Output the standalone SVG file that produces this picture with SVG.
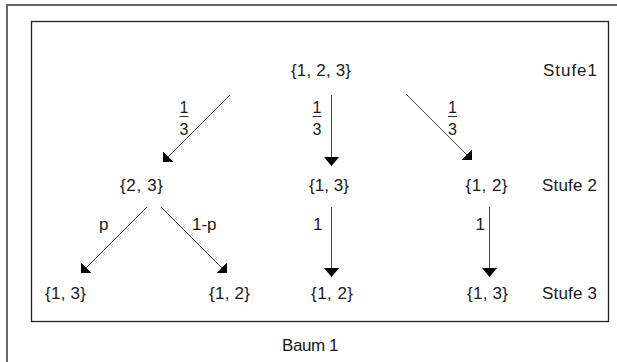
<svg xmlns="http://www.w3.org/2000/svg" width="617" height="362" viewBox="0 0 617 362">
  <style>
    text { font-family: "Liberation Sans", Arial, sans-serif; font-size: 17px; fill: #1a1a1a; }
    .edge { stroke: #444; stroke-width: 1; fill: none; }
    .vert { marker-end: url(#headV); }
    .diag { marker-end: url(#headD); }
    .frac { text-anchor: middle; font-size: 16px; }
  </style>
  <defs>
    <!-- filled head for vertical arrows -->
    <marker id="headV" markerUnits="userSpaceOnUse" viewBox="0 0 10 16" markerWidth="10" markerHeight="16" refX="9.5" refY="8" orient="auto">
      <path d="M0,0 L9.5,8 L0,16 z" fill="#000"/>
    </marker>
    <!-- right-angled head for slanted arrows -->
    <marker id="headD" markerUnits="userSpaceOnUse" viewBox="0 0 8 15" markerWidth="8" markerHeight="15" refX="7.5" refY="7.5" orient="auto">
      <path d="M0,0 L7.5,7.5 L0,15 z" fill="#000"/>
    </marker>
  </defs>

  <rect width="617" height="362" fill="#fff"/>

  <!-- outer frame -->
  <path d="M7,362 V5 H617" stroke="#666" stroke-width="2" fill="none"/>
  <!-- inner frame -->
  <rect x="31.5" y="21.5" width="577" height="300" stroke="#222" stroke-width="1.3" fill="none"/>

  <!-- level labels -->
  <g id="levels">
    <text x="543" y="75.5" textLength="54" lengthAdjust="spacing">Stufe1</text>
    <text x="542" y="191" textLength="55" lengthAdjust="spacing">Stufe 2</text>
    <text x="542" y="298.5" textLength="55" lengthAdjust="spacing">Stufe 3</text>
  </g>

  <!-- tree nodes -->
  <g id="root"><text x="291" y="75.5" textLength="60" lengthAdjust="spacing">{1, 2, 3}</text></g>
  <g id="n23"><text x="120" y="190.5" textLength="43" lengthAdjust="spacing">{2, 3}</text></g>
  <g id="n13"><text x="309" y="190.5" textLength="40" lengthAdjust="spacing">{1, 3}</text></g>
  <g id="n12"><text x="465.5" y="190.5" textLength="42" lengthAdjust="spacing">{1, 2}</text></g>
  <g id="n23_13"><text x="45" y="299" textLength="41" lengthAdjust="spacing">{1, 3}</text></g>
  <g id="n23_12"><text x="209" y="299" textLength="41" lengthAdjust="spacing">{1, 2}</text></g>
  <g id="n13_12"><text x="311" y="299" textLength="42" lengthAdjust="spacing">{1, 2}</text></g>
  <g id="n12_13"><text x="467" y="299" textLength="41" lengthAdjust="spacing">{1, 3}</text></g>

  <!-- connectors with their probabilities -->
  <g id="connectors">
    <line class="edge diag" x1="230" y1="95" x2="163" y2="162"/>
    <line class="edge vert" x1="331.5" y1="95" x2="331.5" y2="166"/>
    <line class="edge diag" x1="406" y1="94" x2="472" y2="160"/>

    <line class="edge diag" x1="147" y1="207" x2="81" y2="273"/>
    <line class="edge diag" x1="161" y1="207" x2="227" y2="273"/>
    <line class="edge vert" x1="331.5" y1="207" x2="331.5" y2="277"/>
    <line class="edge vert" x1="489.5" y1="207" x2="489.5" y2="277"/>

    <!-- one third on each first-stage branch -->
    <g id="w1">
      <text class="frac" x="184" y="113">1</text>
      <line x1="179.5" y1="116.5" x2="188.5" y2="116.5" stroke="#333" stroke-width="1"/>
      <text class="frac" x="184" y="134.5">3</text>
    </g>
    <g id="w2">
      <text class="frac" x="317" y="113">1</text>
      <line x1="312.5" y1="116.5" x2="321.5" y2="116.5" stroke="#333" stroke-width="1"/>
      <text class="frac" x="317" y="134.5">3</text>
    </g>
    <g id="w3">
      <text class="frac" x="452.5" y="113">1</text>
      <line x1="448" y1="116.5" x2="457" y2="116.5" stroke="#333" stroke-width="1"/>
      <text class="frac" x="452.5" y="134.5">3</text>
    </g>

    <text x="99" y="229.5">p</text>
    <text x="192" y="230">1-p</text>
    <text x="313" y="230">1</text>
    <text x="475.5" y="230">1</text>
  </g>

  <!-- caption -->
  <text x="282" y="351" textLength="56.5" lengthAdjust="spacing">Baum 1</text>
</svg>
